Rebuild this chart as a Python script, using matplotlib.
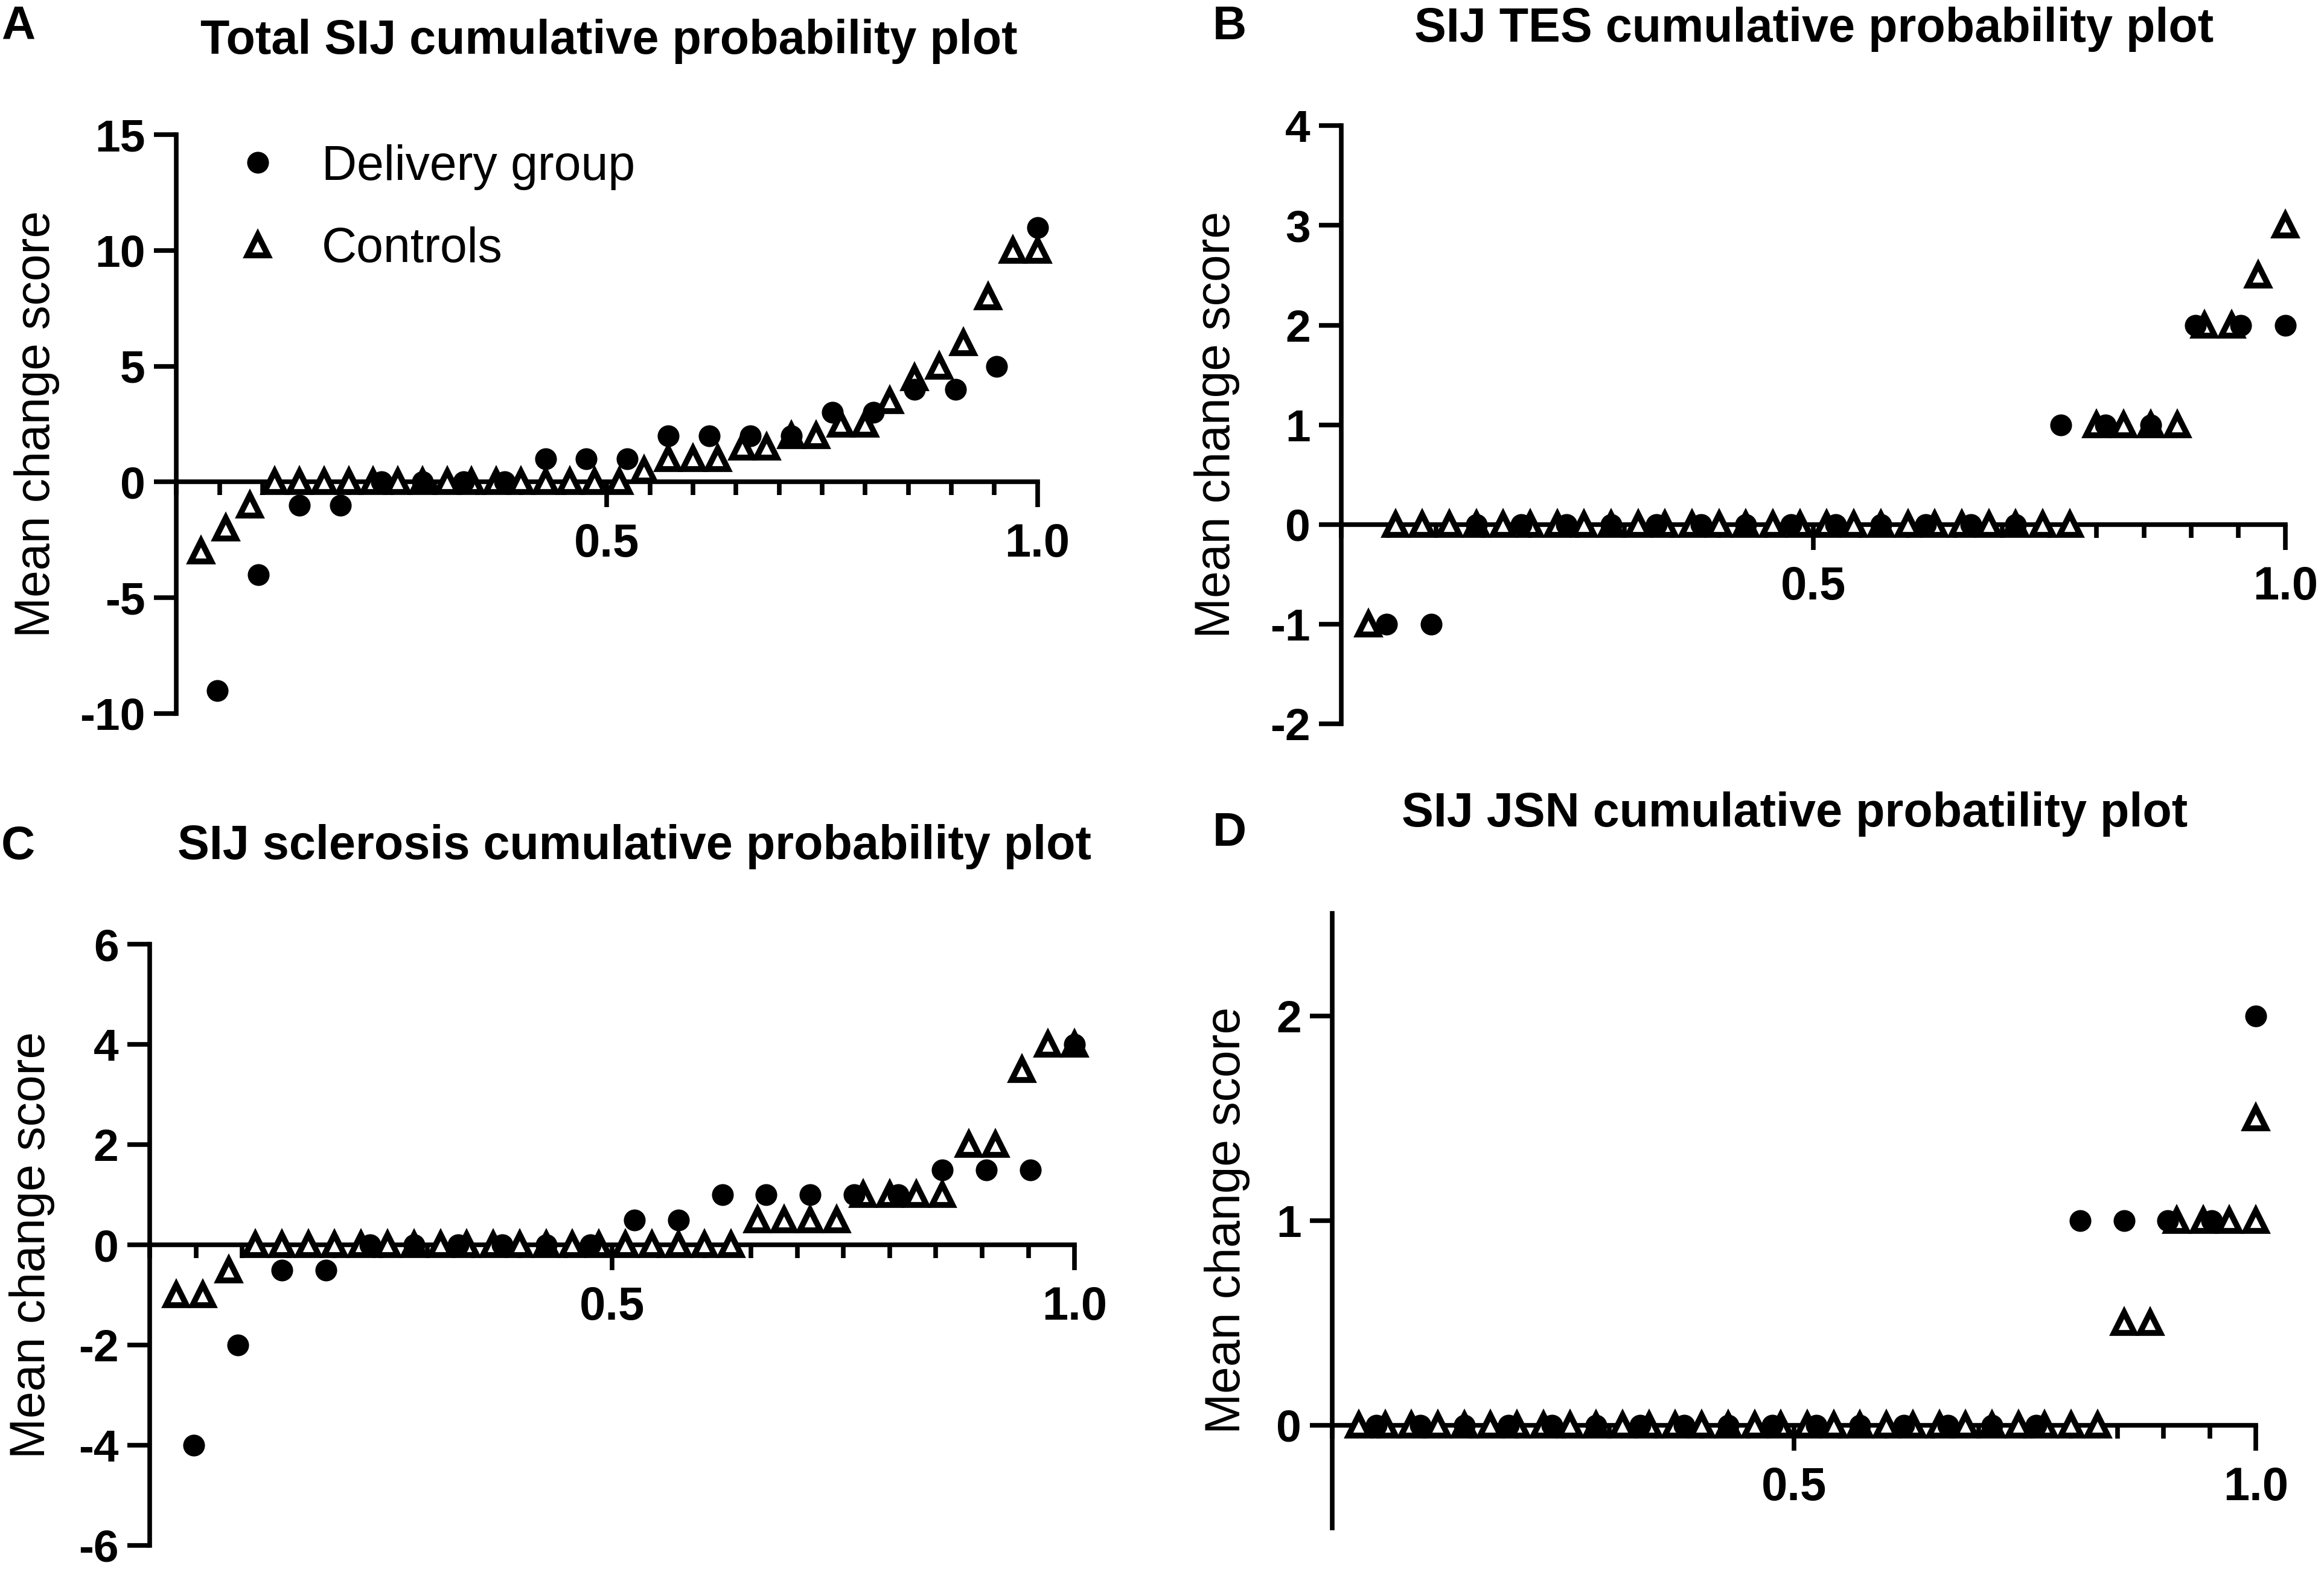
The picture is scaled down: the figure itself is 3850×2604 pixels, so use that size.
import matplotlib
matplotlib.use("Agg")
import matplotlib.pyplot as plt
import numpy as np
from matplotlib.ticker import FixedLocator, MultipleLocator

plt.rcParams['font.family'] = ['Liberation Sans', 'DejaVu Sans']
plt.rcParams['axes.unicode_minus'] = False

# ---------------- data (sorted mean change scores, one value per subject) ----------------
A_delivery = [-9, -4, -1, -1, 0, 0, 0, 0, 1, 1, 1, 2, 2, 2, 2, 3, 3, 4, 4, 5, 11]
A_controls = [-3, -2, -1, 0, 0, 0, 0, 0, 0, 0, 0, 0, 0, 0, 0, 0, 0, 0,
              0.5, 1, 1, 1, 1.5, 1.5, 2, 2, 2.5, 2.5, 3.5, 4.5, 5, 6, 8, 10, 10]

B_delivery = [-1, -1, 0, 0, 0, 0, 0, 0, 0, 0, 0, 0, 0, 0, 0, 1, 1, 1, 2, 2, 2]
B_controls = [-1, 0, 0, 0, 0, 0, 0, 0, 0, 0, 0, 0, 0, 0, 0, 0, 0, 0, 0, 0, 0, 0, 0, 0, 0, 0, 0,
              1, 1, 1, 1, 2, 2, 2.5, 3]

C_delivery = [-4, -2, -0.5, -0.5, 0, 0, 0, 0, 0, 0, 0.5, 0.5, 1, 1, 1, 1, 1, 1.5, 1.5, 1.5, 4]
C_controls = [-1, -1, -0.5, 0, 0, 0, 0, 0, 0, 0, 0, 0, 0, 0, 0, 0, 0, 0, 0, 0, 0, 0,
              0.5, 0.5, 0.5, 0.5, 1, 1, 1, 1, 2, 2, 3.5, 4, 4]

D_delivery = [0, 0, 0, 0, 0, 0, 0, 0, 0, 0, 0, 0, 0, 0, 0, 0, 1, 1, 1, 1, 2]
D_controls = [0, 0, 0, 0, 0, 0, 0, 0, 0, 0, 0, 0, 0, 0, 0, 0, 0, 0, 0, 0, 0, 0, 0, 0, 0, 0, 0, 0, 0,
              0.5, 0.5, 1, 1, 1, 1.5]
D_controls_extra_at_top = [1]   # additional control value drawn at cumulative probability 1.0

titles = ["Total SIJ cumulative probability plot",
          "SIJ TES cumulative probability plot",
          "SIJ sclerosis cumulative probability plot",
          "SIJ JSN cumulative probatility plot"]
letters = ["A", "B", "C", "D"]
ylims = [(-10, 15), (-2, 4), (-6, 6), (-0.5, 2.5)]
yticks = [[-10, -5, 0, 5, 10, 15], [-2, -1, 0, 1, 2, 3, 4], [-6, -4, -2, 0, 2, 4, 6], [0, 1, 2]]
xticks = [0.5, 1.0]
xtick_labels = ["0.5", "1.0"]
legend_labels = ["Delivery group", "Controls"]
ylabel = "Mean change score"

# ---------------- layout ----------------
W, H = 3850, 2604
fig = plt.figure(figsize=(W / 100, H / 100), dpi=100)

rects = [
    (0.0759, 0.5461, 0.3705, 0.3682),
    (0.5772, 0.5395, 0.4062, 0.3805),
    (0.0644, 0.0169, 0.3980, 0.3823),
    (0.5733, 0.0282, 0.3974, 0.3908),
]
ylabel_x = [-0.162, -0.132, -0.127, -0.114]
title_pos = [(0.2621, 0.9736), (0.7806, 0.9812), (0.2730, 0.4614), (0.7723, 0.4821)]
letter_pos = [(0.0077, 0.9830), (0.5290, 0.9830), (0.0077, 0.4614), (0.5290, 0.4700)]

panels = [(A_delivery, A_controls), (B_delivery, B_controls),
          (C_delivery, C_controls), (D_delivery, D_controls)]

LW = 5.5
FS = 56
TRI = dict(linestyle='none', marker='^', markersize=24, markerfacecolor='white',
           markeredgecolor='black', markeredgewidth=7, clip_on=False, zorder=3)

for k, (deliv, ctrl) in enumerate(panels):
    ax = fig.add_axes(rects[k])
    nd, nc = len(deliv), len(ctrl)
    xd = np.arange(1, nd + 1) / nd
    xc = np.arange(1, nc + 1) / nc
    hc, = ax.plot(xc, ctrl, label=legend_labels[1], **TRI)
    if k == 3:
        ax.plot(np.full(len(D_controls_extra_at_top), xc[-1]), D_controls_extra_at_top, **TRI)
    hd, = ax.plot(xd, deliv, linestyle='none', marker='o', markersize=26,
                  markerfacecolor='black', markeredgecolor='black', markeredgewidth=0,
                  clip_on=False, zorder=4, label=legend_labels[0])

    ax.set_xlim(0, 1.0)
    ax.set_ylim(*ylims[k])
    for s in ['top', 'right']:
        ax.spines[s].set_visible(False)
    ax.spines['bottom'].set_position(('data', 0))
    for s in ['left', 'bottom']:
        ax.spines[s].set_linewidth(LW)
        ax.spines[s].set_capstyle('projecting')

    ax.xaxis.set_major_locator(FixedLocator(xticks))
    ax.set_xticklabels(xtick_labels, fontsize=FS, fontweight='bold')
    ax.xaxis.set_minor_locator(MultipleLocator(0.05))
    ax.set_yticks(yticks[k])
    ax.set_yticklabels([str(v) for v in yticks[k]], fontsize=FS - 2, fontweight='bold')
    ax.tick_params(axis='x', which='major', length=30, width=LW, direction='out', pad=18)
    ax.tick_params(axis='x', which='minor', length=16, width=LW, direction='out')
    ax.tick_params(axis='y', which='major', length=27, width=LW, direction='out', pad=10)

    ax.set_ylabel(ylabel, fontsize=FS + 2, va='center')
    ax.yaxis.set_label_coords(ylabel_x[k], 0.5)
    ax.patch.set_visible(False)

    fig.text(title_pos[k][0], title_pos[k][1], titles[k], fontsize=FS + 1,
             fontweight='bold', ha='center', va='center')
    fig.text(letter_pos[k][0], letter_pos[k][1], letters[k], fontsize=56,
             fontweight='bold', ha='center', va='center')

    if k == 0:
        ax.legend(handles=[hd, hc], loc='upper left', bbox_to_anchor=(0.066, 0.984),
                  frameon=False, fontsize=FS + 2, handlelength=1.0, handletextpad=0.82,
                  labelspacing=0.75, borderpad=0, borderaxespad=0, numpoints=1)

fig.savefig("out.png", dpi=100, facecolor='white')
